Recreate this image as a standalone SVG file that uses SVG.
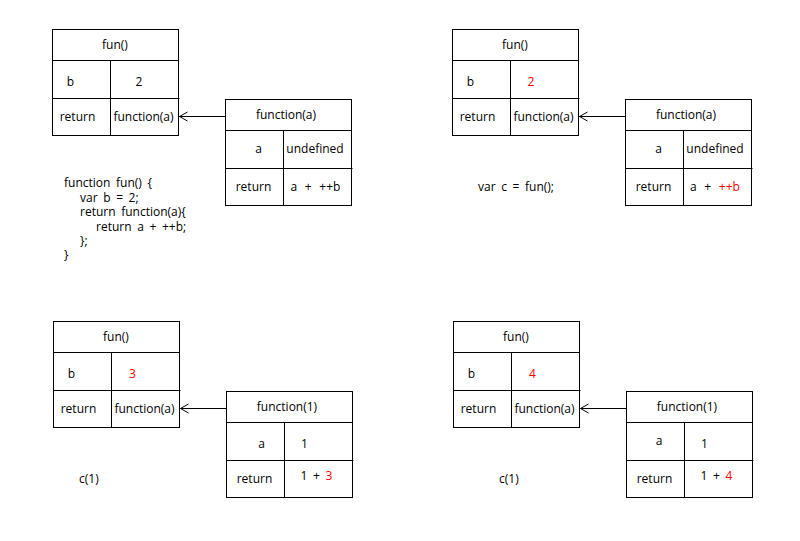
<svg xmlns="http://www.w3.org/2000/svg" width="800" height="541" viewBox="0 0 800 541">
<style>
text{font-family:"Open Sans","Noto Sans","DejaVu Sans",sans-serif;font-size:12px;fill:#000}
.m{text-anchor:middle}
.r{fill:#FF0000}
.ws{word-spacing:2.5px}
.ws4{word-spacing:4.5px}
.box{fill:#fff;stroke:#000;stroke-width:1}
.ln{stroke:#000;stroke-width:1;fill:none}
</style>
<defs>
<marker id="open" markerWidth="12" markerHeight="12" refX="10" refY="6" orient="auto" markerUnits="userSpaceOnUse">
<polyline points="2,1.5 10,6 2,10.5" fill="none" stroke="#000" stroke-width="1"/>
</marker>
</defs>
<rect width="800" height="541" fill="#fff"/>

<!-- Panel 1 -->
<g transform="translate(0,0)">
<g id="fun1">
<rect class="box" x="52.5" y="29.5" width="126" height="106"/>
<path class="ln" d="M52.5 60.5H178.5M52.5 98.5H179.5M110.5 60.5V136"/>
<text class="m" x="115" y="49">fun()</text>
<text class="m" x="70.5" y="86">b</text>
<text class="m" x="139" y="86">2</text>
<text class="m" x="77.5" y="121">return</text>
<text class="m" x="143.5" y="121">function(a)</text>
</g>
<g id="fa1">
<rect class="box" x="225.5" y="99.5" width="126" height="106"/>
<path class="ln" d="M225.5 130.5H351.5M225.5 168.5H352.5M283.5 130.5V206"/>
<text class="m" x="286" y="119">function(a)</text>
<text class="m" x="258.5" y="153">a</text>
<text class="m" x="315" y="153">undefined</text>
<text class="m" x="253.5" y="191">return</text>
<text class="ws4" x="290.5" y="191">a + ++b</text>
</g>
<g id="conn1"><line class="ln" x1="225.5" y1="116.5" x2="179.5" y2="116.5" marker-end="url(#open)"/></g>
</g>
<g id="code1" class="ws">
<text x="64" y="187">function fun() {</text>
<text x="80" y="201.5">var b = 2;</text>
<text x="80" y="216">return function(a){</text>
<text x="96" y="230.5">return a + ++b;</text>
<text x="80" y="245">};</text>
<text x="64" y="259">}</text>
</g>

<!-- Panel 2 -->
<g transform="translate(400,0)">
<g id="fun2">
<rect class="box" x="52.5" y="29.5" width="126" height="106"/>
<path class="ln" d="M52.5 60.5H178.5M52.5 98.5H179.5M110.5 60.5V136"/>
<text class="m" x="115" y="49">fun()</text>
<text class="m" x="70.5" y="86">b</text>
<text class="m r" x="131" y="86">2</text>
<text class="m" x="77.5" y="121">return</text>
<text class="m" x="143.5" y="121">function(a)</text>
</g>
<g id="fa2">
<rect class="box" x="225.5" y="99.5" width="126" height="106"/>
<path class="ln" d="M225.5 130.5H351.5M225.5 168.5H352.5M283.5 130.5V206"/>
<text class="m" x="286" y="119">function(a)</text>
<text class="m" x="258.5" y="153">a</text>
<text class="m" x="315" y="153">undefined</text>
<text class="m" x="253.5" y="191">return</text>
<text class="ws4" x="290" y="191">a + <tspan class="r">++b</tspan></text>
</g>
<g id="conn2"><line class="ln" x1="225.5" y1="116.5" x2="179.5" y2="116.5" marker-end="url(#open)"/></g>
<text id="code2" class="ws" x="78" y="191">var c = fun();</text>
</g>

<!-- Panel 3 -->
<g transform="translate(1,292)">
<g id="fun3">
<rect class="box" x="52.5" y="29.5" width="126" height="106"/>
<path class="ln" d="M52.5 60.5H178.5M52.5 98.5H179.5M110.5 60.5V136"/>
<text class="m" x="115" y="49">fun()</text>
<text class="m" x="70.5" y="86">b</text>
<text class="m r" x="131.5" y="86">3</text>
<text class="m" x="77.5" y="121">return</text>
<text class="m" x="143.5" y="121">function(a)</text>
</g>
<g id="fa3">
<rect class="box" x="225.5" y="99.5" width="126" height="106"/>
<path class="ln" d="M225.5 130.5H351.5M225.5 168.5H352.5M283.5 130.5V206"/>
<text class="m" x="286" y="119">function(1)</text>
<text class="m" x="260.5" y="155.5">a</text>
<text class="m" x="303.5" y="155.5">1</text>
<text class="m" x="253.5" y="190.5">return</text>
<text class="ws" x="299.5" y="188">1 + <tspan class="r">3</tspan></text>
</g>
<g id="conn3"><line class="ln" x1="225.5" y1="116.5" x2="179.5" y2="116.5" marker-end="url(#open)"/></g>
<text id="code3" x="78" y="191">c(1)</text>
</g>

<!-- Panel 4 -->
<g transform="translate(401,292)">
<g id="fun4">
<rect class="box" x="52.5" y="29.5" width="126" height="106"/>
<path class="ln" d="M52.5 60.5H178.5M52.5 98.5H179.5M110.5 60.5V136"/>
<text class="m" x="115" y="49">fun()</text>
<text class="m" x="70.5" y="86">b</text>
<text class="m r" x="131.5" y="86">4</text>
<text class="m" x="77.5" y="121">return</text>
<text class="m" x="143.5" y="121">function(a)</text>
</g>
<g id="fa4">
<rect class="box" x="225.5" y="99.5" width="126" height="106"/>
<path class="ln" d="M225.5 130.5H351.5M225.5 168.5H352.5M283.5 130.5V206"/>
<text class="m" x="286" y="119">function(1)</text>
<text class="m" x="258" y="153">a</text>
<text class="m" x="303.5" y="155.5">1</text>
<text class="m" x="253.5" y="190.5">return</text>
<text class="ws" x="299.5" y="188">1 + <tspan class="r">4</tspan></text>
</g>
<g id="conn4"><line class="ln" x1="225.5" y1="116.5" x2="179.5" y2="116.5" marker-end="url(#open)"/></g>
<text id="code4" x="98" y="191">c(1)</text>
</g>
</svg>
